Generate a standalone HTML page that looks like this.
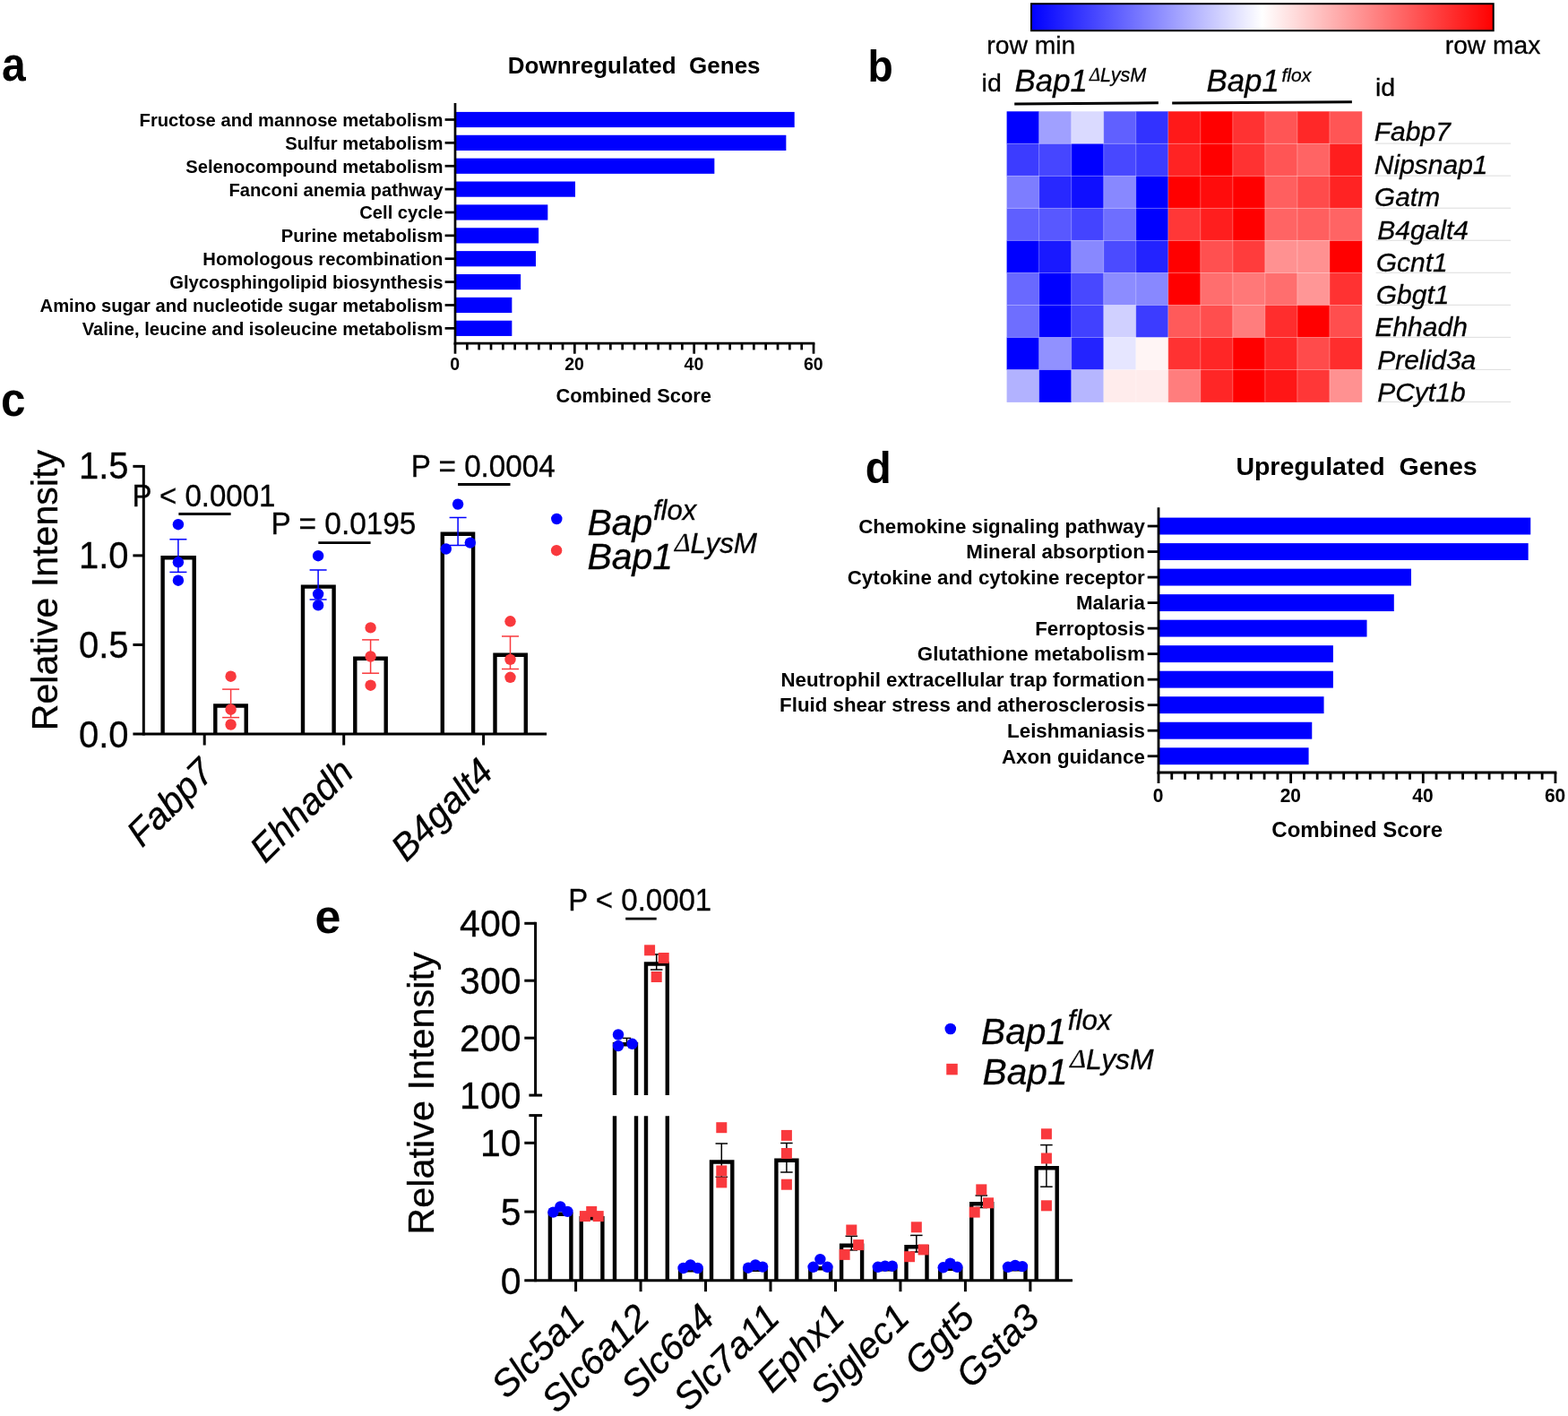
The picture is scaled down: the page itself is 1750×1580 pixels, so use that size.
<!DOCTYPE html>
<html lang="en">
<head>
<meta charset="utf-8">
<title>Figure</title>
<style>
html,body{margin:0;padding:0;background:#fff;}
body{width:1750px;height:1580px;overflow:hidden;}
svg{display:block;font-family:'Liberation Sans', Arial, Helvetica, sans-serif;fill:#000;}
text{stroke:#000;stroke-width:0.3px;}
text[font-weight=bold]{stroke:none;}
</style>
</head>
<body>
<svg width="1750" height="1580" viewBox="0 0 1750 1580">
<rect x="0" y="0" width="1750" height="1580" fill="#ffffff"/>
<g id="panel-labels">
<text transform="translate(2.04 90.05) scale(0.9233 0.9899)" font-size="52" font-weight="bold" >a</text>
<text transform="translate(968.4 90.86) scale(0.8892 0.9689)" font-size="52" font-weight="bold" >b</text>
<text transform="translate(1.02 464.24) scale(0.9501 0.9969)" font-size="52" font-weight="bold" >c</text>
<text transform="translate(965.8 539.15) scale(0.9121 0.9768)" font-size="52" font-weight="bold" >d</text>
<text transform="translate(351.42 1041.15) scale(0.9995 0.9794)" font-size="52" font-weight="bold" >e</text>
</g>
<g id="panel-a">
<text x="707.7" y="82.3" font-size="26" font-weight="bold" text-anchor="middle" style="white-space:pre">Downregulated  Genes</text>
<rect x="508" y="124.9" width="378.69" height="17.2" fill="#0000ff"/>
<line x1="496.6" y1="133.5" x2="508" y2="133.5" stroke="#000" stroke-width="2.7" stroke-linecap="butt"/>
<text x="494.4" y="140.9" font-size="20.2" font-weight="bold" text-anchor="end">Fructose and mannose metabolism</text>
<rect x="508" y="150.77" width="369.35" height="17.2" fill="#0000ff"/>
<line x1="496.6" y1="159.37" x2="508" y2="159.37" stroke="#000" stroke-width="2.7" stroke-linecap="butt"/>
<text x="494.4" y="166.77" font-size="20.2" font-weight="bold" text-anchor="end">Sulfur metabolism</text>
<rect x="508" y="176.64" width="289.35" height="17.2" fill="#0000ff"/>
<line x1="496.6" y1="185.24" x2="508" y2="185.24" stroke="#000" stroke-width="2.7" stroke-linecap="butt"/>
<text x="494.4" y="192.64" font-size="20.2" font-weight="bold" text-anchor="end">Selenocompound metabolism</text>
<rect x="508" y="202.51" width="134.01" height="17.2" fill="#0000ff"/>
<line x1="496.6" y1="211.11" x2="508" y2="211.11" stroke="#000" stroke-width="2.7" stroke-linecap="butt"/>
<text x="494.4" y="218.51" font-size="20.2" font-weight="bold" text-anchor="end">Fanconi anemia pathway</text>
<rect x="508" y="228.38" width="103.34" height="17.2" fill="#0000ff"/>
<line x1="496.6" y1="236.98" x2="508" y2="236.98" stroke="#000" stroke-width="2.7" stroke-linecap="butt"/>
<text x="494.4" y="244.38" font-size="20.2" font-weight="bold" text-anchor="end">Cell cycle</text>
<rect x="508" y="254.25" width="93.14" height="17.2" fill="#0000ff"/>
<line x1="496.6" y1="262.85" x2="508" y2="262.85" stroke="#000" stroke-width="2.7" stroke-linecap="butt"/>
<text x="494.4" y="270.25" font-size="20.2" font-weight="bold" text-anchor="end">Purine metabolism</text>
<rect x="508" y="280.12" width="90" height="17.2" fill="#0000ff"/>
<line x1="496.6" y1="288.72" x2="508" y2="288.72" stroke="#000" stroke-width="2.7" stroke-linecap="butt"/>
<text x="494.4" y="296.12" font-size="20.2" font-weight="bold" text-anchor="end">Homologous recombination</text>
<rect x="508" y="305.99" width="73.14" height="17.2" fill="#0000ff"/>
<line x1="496.6" y1="314.59" x2="508" y2="314.59" stroke="#000" stroke-width="2.7" stroke-linecap="butt"/>
<text x="494.4" y="321.99" font-size="20.2" font-weight="bold" text-anchor="end">Glycosphingolipid biosynthesis</text>
<rect x="508" y="331.86" width="63.34" height="17.2" fill="#0000ff"/>
<line x1="496.6" y1="340.46" x2="508" y2="340.46" stroke="#000" stroke-width="2.7" stroke-linecap="butt"/>
<text x="494.4" y="347.86" font-size="20.2" font-weight="bold" text-anchor="end">Amino sugar and nucleotide sugar metabolism</text>
<rect x="508" y="357.73" width="63.34" height="17.2" fill="#0000ff"/>
<line x1="496.6" y1="366.33" x2="508" y2="366.33" stroke="#000" stroke-width="2.7" stroke-linecap="butt"/>
<text x="494.4" y="373.73" font-size="20.2" font-weight="bold" text-anchor="end">Valine, leucine and isoleucine metabolism</text>
<line x1="508" y1="115" x2="508" y2="384.55" stroke="#000" stroke-width="2.7" stroke-linecap="butt"/>
<line x1="506.65" y1="383.2" x2="909.37" y2="383.2" stroke="#000" stroke-width="2.7" stroke-linecap="butt"/>
<line x1="508" y1="383.2" x2="508" y2="394.7" stroke="#000" stroke-width="2.7" stroke-linecap="butt"/>
<text transform="translate(507.7 413.4) scale(1 1.04)" font-size="19.5" font-weight="bold" text-anchor="middle">0</text>
<line x1="521.33" y1="383.2" x2="521.33" y2="390.4" stroke="#000" stroke-width="2.7" stroke-linecap="butt"/>
<line x1="534.67" y1="383.2" x2="534.67" y2="390.4" stroke="#000" stroke-width="2.7" stroke-linecap="butt"/>
<line x1="548" y1="383.2" x2="548" y2="390.4" stroke="#000" stroke-width="2.7" stroke-linecap="butt"/>
<line x1="561.34" y1="383.2" x2="561.34" y2="390.4" stroke="#000" stroke-width="2.7" stroke-linecap="butt"/>
<line x1="574.67" y1="383.2" x2="574.67" y2="390.4" stroke="#000" stroke-width="2.7" stroke-linecap="butt"/>
<line x1="588" y1="383.2" x2="588" y2="390.4" stroke="#000" stroke-width="2.7" stroke-linecap="butt"/>
<line x1="601.34" y1="383.2" x2="601.34" y2="390.4" stroke="#000" stroke-width="2.7" stroke-linecap="butt"/>
<line x1="614.67" y1="383.2" x2="614.67" y2="390.4" stroke="#000" stroke-width="2.7" stroke-linecap="butt"/>
<line x1="628.01" y1="383.2" x2="628.01" y2="390.4" stroke="#000" stroke-width="2.7" stroke-linecap="butt"/>
<line x1="641.34" y1="383.2" x2="641.34" y2="394.7" stroke="#000" stroke-width="2.7" stroke-linecap="butt"/>
<text transform="translate(641.04 413.4) scale(1 1.04)" font-size="19.5" font-weight="bold" text-anchor="middle">20</text>
<line x1="654.67" y1="383.2" x2="654.67" y2="390.4" stroke="#000" stroke-width="2.7" stroke-linecap="butt"/>
<line x1="668.01" y1="383.2" x2="668.01" y2="390.4" stroke="#000" stroke-width="2.7" stroke-linecap="butt"/>
<line x1="681.34" y1="383.2" x2="681.34" y2="390.4" stroke="#000" stroke-width="2.7" stroke-linecap="butt"/>
<line x1="694.68" y1="383.2" x2="694.68" y2="390.4" stroke="#000" stroke-width="2.7" stroke-linecap="butt"/>
<line x1="708.01" y1="383.2" x2="708.01" y2="390.4" stroke="#000" stroke-width="2.7" stroke-linecap="butt"/>
<line x1="721.34" y1="383.2" x2="721.34" y2="390.4" stroke="#000" stroke-width="2.7" stroke-linecap="butt"/>
<line x1="734.68" y1="383.2" x2="734.68" y2="390.4" stroke="#000" stroke-width="2.7" stroke-linecap="butt"/>
<line x1="748.01" y1="383.2" x2="748.01" y2="390.4" stroke="#000" stroke-width="2.7" stroke-linecap="butt"/>
<line x1="761.35" y1="383.2" x2="761.35" y2="390.4" stroke="#000" stroke-width="2.7" stroke-linecap="butt"/>
<line x1="774.68" y1="383.2" x2="774.68" y2="394.7" stroke="#000" stroke-width="2.7" stroke-linecap="butt"/>
<text transform="translate(774.38 413.4) scale(1 1.04)" font-size="19.5" font-weight="bold" text-anchor="middle">40</text>
<line x1="788.01" y1="383.2" x2="788.01" y2="390.4" stroke="#000" stroke-width="2.7" stroke-linecap="butt"/>
<line x1="801.35" y1="383.2" x2="801.35" y2="390.4" stroke="#000" stroke-width="2.7" stroke-linecap="butt"/>
<line x1="814.68" y1="383.2" x2="814.68" y2="390.4" stroke="#000" stroke-width="2.7" stroke-linecap="butt"/>
<line x1="828.02" y1="383.2" x2="828.02" y2="390.4" stroke="#000" stroke-width="2.7" stroke-linecap="butt"/>
<line x1="841.35" y1="383.2" x2="841.35" y2="390.4" stroke="#000" stroke-width="2.7" stroke-linecap="butt"/>
<line x1="854.68" y1="383.2" x2="854.68" y2="390.4" stroke="#000" stroke-width="2.7" stroke-linecap="butt"/>
<line x1="868.02" y1="383.2" x2="868.02" y2="390.4" stroke="#000" stroke-width="2.7" stroke-linecap="butt"/>
<line x1="881.35" y1="383.2" x2="881.35" y2="390.4" stroke="#000" stroke-width="2.7" stroke-linecap="butt"/>
<line x1="894.69" y1="383.2" x2="894.69" y2="390.4" stroke="#000" stroke-width="2.7" stroke-linecap="butt"/>
<line x1="908.02" y1="383.2" x2="908.02" y2="394.7" stroke="#000" stroke-width="2.7" stroke-linecap="butt"/>
<text transform="translate(907.72 413.4) scale(1 1.04)" font-size="19.5" font-weight="bold" text-anchor="middle">60</text>
<text x="707.2" y="449" font-size="21.85" font-weight="bold" text-anchor="middle">Combined Score</text>
</g>
<g id="panel-b">
<linearGradient id="cb" x1="0" x2="1" y1="0" y2="0"><stop offset="0" stop-color="#0000ff"/><stop offset="0.5" stop-color="#ffffff"/><stop offset="1" stop-color="#ff0000"/></linearGradient>
<rect x="1151" y="4.2" width="515.7" height="30" fill="url(#cb)" stroke="#000" stroke-width="2"/>
<text x="1101.3" y="59.9" font-size="28.3">row min</text>
<text x="1612.8" y="59.9" font-size="28.2">row max</text>
<text x="1095.6" y="102.2" font-size="28.5">id</text>
<text x="1535" y="107.4" font-size="28.5">id</text>
<text font-style="italic"><tspan x="1132.6" y="102.2" font-size="34.8">Bap1</tspan><tspan x="1216" y="90" font-size="20.5" font-family="Liberation Serif, serif">Δ</tspan><tspan dy="1.2" font-size="21.6">LysM</tspan></text>
<text font-style="italic"><tspan x="1346.5" y="102.2" font-size="34.8">Bap1</tspan><tspan x="1430.5" y="91.4" font-size="21">flox</tspan></text>
<line x1="1132.2" y1="116" x2="1292.9" y2="114.8" stroke="#000" stroke-width="3" stroke-linecap="butt"/>
<line x1="1308.2" y1="115" x2="1508.9" y2="113.8" stroke="#000" stroke-width="3" stroke-linecap="butt"/>
<rect x="1123.6" y="124.3" width="36.33" height="36.33" fill="rgb(0,0,255)"/>
<rect x="1159.63" y="124.3" width="36.33" height="36.33" fill="rgb(160,160,255)"/>
<rect x="1195.66" y="124.3" width="36.33" height="36.33" fill="rgb(218,218,255)"/>
<rect x="1231.69" y="124.3" width="36.33" height="36.33" fill="rgb(96,96,255)"/>
<rect x="1267.72" y="124.3" width="36.33" height="36.33" fill="rgb(50,50,255)"/>
<rect x="1303.75" y="124.3" width="36.33" height="36.33" fill="rgb(255,25,25)"/>
<rect x="1339.78" y="124.3" width="36.33" height="36.33" fill="rgb(255,0,0)"/>
<rect x="1375.81" y="124.3" width="36.33" height="36.33" fill="rgb(255,50,50)"/>
<rect x="1411.84" y="124.3" width="36.33" height="36.33" fill="rgb(255,85,85)"/>
<rect x="1447.87" y="124.3" width="36.33" height="36.33" fill="rgb(255,40,40)"/>
<rect x="1483.9" y="124.3" width="36.33" height="36.33" fill="rgb(255,85,85)"/>
<rect x="1123.6" y="160.33" width="36.33" height="36.33" fill="rgb(60,60,255)"/>
<rect x="1159.63" y="160.33" width="36.33" height="36.33" fill="rgb(70,70,255)"/>
<rect x="1195.66" y="160.33" width="36.33" height="36.33" fill="rgb(0,0,255)"/>
<rect x="1231.69" y="160.33" width="36.33" height="36.33" fill="rgb(72,72,255)"/>
<rect x="1267.72" y="160.33" width="36.33" height="36.33" fill="rgb(60,60,255)"/>
<rect x="1303.75" y="160.33" width="36.33" height="36.33" fill="rgb(255,35,35)"/>
<rect x="1339.78" y="160.33" width="36.33" height="36.33" fill="rgb(255,0,0)"/>
<rect x="1375.81" y="160.33" width="36.33" height="36.33" fill="rgb(255,50,50)"/>
<rect x="1411.84" y="160.33" width="36.33" height="36.33" fill="rgb(255,85,85)"/>
<rect x="1447.87" y="160.33" width="36.33" height="36.33" fill="rgb(255,100,100)"/>
<rect x="1483.9" y="160.33" width="36.33" height="36.33" fill="rgb(255,30,30)"/>
<rect x="1123.6" y="196.36" width="36.33" height="36.33" fill="rgb(125,125,255)"/>
<rect x="1159.63" y="196.36" width="36.33" height="36.33" fill="rgb(40,40,255)"/>
<rect x="1195.66" y="196.36" width="36.33" height="36.33" fill="rgb(15,15,255)"/>
<rect x="1231.69" y="196.36" width="36.33" height="36.33" fill="rgb(136,136,255)"/>
<rect x="1267.72" y="196.36" width="36.33" height="36.33" fill="rgb(0,0,255)"/>
<rect x="1303.75" y="196.36" width="36.33" height="36.33" fill="rgb(255,0,0)"/>
<rect x="1339.78" y="196.36" width="36.33" height="36.33" fill="rgb(255,12,12)"/>
<rect x="1375.81" y="196.36" width="36.33" height="36.33" fill="rgb(255,0,0)"/>
<rect x="1411.84" y="196.36" width="36.33" height="36.33" fill="rgb(255,95,95)"/>
<rect x="1447.87" y="196.36" width="36.33" height="36.33" fill="rgb(255,75,75)"/>
<rect x="1483.9" y="196.36" width="36.33" height="36.33" fill="rgb(255,35,35)"/>
<rect x="1123.6" y="232.39" width="36.33" height="36.33" fill="rgb(95,95,255)"/>
<rect x="1159.63" y="232.39" width="36.33" height="36.33" fill="rgb(88,88,255)"/>
<rect x="1195.66" y="232.39" width="36.33" height="36.33" fill="rgb(68,68,255)"/>
<rect x="1231.69" y="232.39" width="36.33" height="36.33" fill="rgb(110,110,255)"/>
<rect x="1267.72" y="232.39" width="36.33" height="36.33" fill="rgb(0,0,255)"/>
<rect x="1303.75" y="232.39" width="36.33" height="36.33" fill="rgb(255,55,55)"/>
<rect x="1339.78" y="232.39" width="36.33" height="36.33" fill="rgb(255,30,30)"/>
<rect x="1375.81" y="232.39" width="36.33" height="36.33" fill="rgb(255,0,0)"/>
<rect x="1411.84" y="232.39" width="36.33" height="36.33" fill="rgb(255,100,100)"/>
<rect x="1447.87" y="232.39" width="36.33" height="36.33" fill="rgb(255,95,95)"/>
<rect x="1483.9" y="232.39" width="36.33" height="36.33" fill="rgb(255,100,100)"/>
<rect x="1123.6" y="268.42" width="36.33" height="36.33" fill="rgb(0,0,255)"/>
<rect x="1159.63" y="268.42" width="36.33" height="36.33" fill="rgb(25,25,255)"/>
<rect x="1195.66" y="268.42" width="36.33" height="36.33" fill="rgb(136,136,255)"/>
<rect x="1231.69" y="268.42" width="36.33" height="36.33" fill="rgb(75,75,255)"/>
<rect x="1267.72" y="268.42" width="36.33" height="36.33" fill="rgb(35,35,255)"/>
<rect x="1303.75" y="268.42" width="36.33" height="36.33" fill="rgb(255,0,0)"/>
<rect x="1339.78" y="268.42" width="36.33" height="36.33" fill="rgb(255,80,80)"/>
<rect x="1375.81" y="268.42" width="36.33" height="36.33" fill="rgb(255,60,60)"/>
<rect x="1411.84" y="268.42" width="36.33" height="36.33" fill="rgb(255,145,145)"/>
<rect x="1447.87" y="268.42" width="36.33" height="36.33" fill="rgb(255,145,145)"/>
<rect x="1483.9" y="268.42" width="36.33" height="36.33" fill="rgb(255,0,0)"/>
<rect x="1123.6" y="304.45" width="36.33" height="36.33" fill="rgb(105,105,255)"/>
<rect x="1159.63" y="304.45" width="36.33" height="36.33" fill="rgb(0,0,255)"/>
<rect x="1195.66" y="304.45" width="36.33" height="36.33" fill="rgb(72,72,255)"/>
<rect x="1231.69" y="304.45" width="36.33" height="36.33" fill="rgb(140,140,255)"/>
<rect x="1267.72" y="304.45" width="36.33" height="36.33" fill="rgb(136,136,255)"/>
<rect x="1303.75" y="304.45" width="36.33" height="36.33" fill="rgb(255,0,0)"/>
<rect x="1339.78" y="304.45" width="36.33" height="36.33" fill="rgb(255,110,110)"/>
<rect x="1375.81" y="304.45" width="36.33" height="36.33" fill="rgb(255,120,120)"/>
<rect x="1411.84" y="304.45" width="36.33" height="36.33" fill="rgb(255,110,110)"/>
<rect x="1447.87" y="304.45" width="36.33" height="36.33" fill="rgb(255,150,150)"/>
<rect x="1483.9" y="304.45" width="36.33" height="36.33" fill="rgb(255,50,50)"/>
<rect x="1123.6" y="340.48" width="36.33" height="36.33" fill="rgb(110,110,255)"/>
<rect x="1159.63" y="340.48" width="36.33" height="36.33" fill="rgb(0,0,255)"/>
<rect x="1195.66" y="340.48" width="36.33" height="36.33" fill="rgb(65,65,255)"/>
<rect x="1231.69" y="340.48" width="36.33" height="36.33" fill="rgb(208,208,255)"/>
<rect x="1267.72" y="340.48" width="36.33" height="36.33" fill="rgb(60,60,255)"/>
<rect x="1303.75" y="340.48" width="36.33" height="36.33" fill="rgb(255,90,90)"/>
<rect x="1339.78" y="340.48" width="36.33" height="36.33" fill="rgb(255,78,78)"/>
<rect x="1375.81" y="340.48" width="36.33" height="36.33" fill="rgb(255,125,125)"/>
<rect x="1411.84" y="340.48" width="36.33" height="36.33" fill="rgb(255,45,45)"/>
<rect x="1447.87" y="340.48" width="36.33" height="36.33" fill="rgb(255,0,0)"/>
<rect x="1483.9" y="340.48" width="36.33" height="36.33" fill="rgb(255,78,78)"/>
<rect x="1123.6" y="376.51" width="36.33" height="36.33" fill="rgb(0,0,255)"/>
<rect x="1159.63" y="376.51" width="36.33" height="36.33" fill="rgb(145,145,255)"/>
<rect x="1195.66" y="376.51" width="36.33" height="36.33" fill="rgb(35,35,255)"/>
<rect x="1231.69" y="376.51" width="36.33" height="36.33" fill="rgb(230,230,255)"/>
<rect x="1267.72" y="376.51" width="36.33" height="36.33" fill="rgb(255,245,245)"/>
<rect x="1303.75" y="376.51" width="36.33" height="36.33" fill="rgb(255,50,50)"/>
<rect x="1339.78" y="376.51" width="36.33" height="36.33" fill="rgb(255,38,38)"/>
<rect x="1375.81" y="376.51" width="36.33" height="36.33" fill="rgb(255,0,0)"/>
<rect x="1411.84" y="376.51" width="36.33" height="36.33" fill="rgb(255,38,38)"/>
<rect x="1447.87" y="376.51" width="36.33" height="36.33" fill="rgb(255,75,75)"/>
<rect x="1483.9" y="376.51" width="36.33" height="36.33" fill="rgb(255,45,45)"/>
<rect x="1123.6" y="412.54" width="36.33" height="36.33" fill="rgb(178,178,255)"/>
<rect x="1159.63" y="412.54" width="36.33" height="36.33" fill="rgb(0,0,255)"/>
<rect x="1195.66" y="412.54" width="36.33" height="36.33" fill="rgb(182,182,255)"/>
<rect x="1231.69" y="412.54" width="36.33" height="36.33" fill="rgb(255,236,236)"/>
<rect x="1267.72" y="412.54" width="36.33" height="36.33" fill="rgb(255,236,236)"/>
<rect x="1303.75" y="412.54" width="36.33" height="36.33" fill="rgb(255,125,125)"/>
<rect x="1339.78" y="412.54" width="36.33" height="36.33" fill="rgb(255,38,38)"/>
<rect x="1375.81" y="412.54" width="36.33" height="36.33" fill="rgb(255,0,0)"/>
<rect x="1411.84" y="412.54" width="36.33" height="36.33" fill="rgb(255,22,22)"/>
<rect x="1447.87" y="412.54" width="36.33" height="36.33" fill="rgb(255,55,55)"/>
<rect x="1483.9" y="412.54" width="36.33" height="36.33" fill="rgb(255,145,145)"/>
<line x1="1159.63" y1="124.3" x2="1159.63" y2="448.57" stroke="rgba(255,255,255,0.3)" stroke-width="1" stroke-linecap="butt"/>
<line x1="1195.66" y1="124.3" x2="1195.66" y2="448.57" stroke="rgba(255,255,255,0.3)" stroke-width="1" stroke-linecap="butt"/>
<line x1="1231.69" y1="124.3" x2="1231.69" y2="448.57" stroke="rgba(255,255,255,0.3)" stroke-width="1" stroke-linecap="butt"/>
<line x1="1267.72" y1="124.3" x2="1267.72" y2="448.57" stroke="rgba(255,255,255,0.3)" stroke-width="1" stroke-linecap="butt"/>
<line x1="1303.75" y1="124.3" x2="1303.75" y2="448.57" stroke="rgba(255,255,255,0.3)" stroke-width="1" stroke-linecap="butt"/>
<line x1="1339.78" y1="124.3" x2="1339.78" y2="448.57" stroke="rgba(255,255,255,0.3)" stroke-width="1" stroke-linecap="butt"/>
<line x1="1375.81" y1="124.3" x2="1375.81" y2="448.57" stroke="rgba(255,255,255,0.3)" stroke-width="1" stroke-linecap="butt"/>
<line x1="1411.84" y1="124.3" x2="1411.84" y2="448.57" stroke="rgba(255,255,255,0.3)" stroke-width="1" stroke-linecap="butt"/>
<line x1="1447.87" y1="124.3" x2="1447.87" y2="448.57" stroke="rgba(255,255,255,0.3)" stroke-width="1" stroke-linecap="butt"/>
<line x1="1483.9" y1="124.3" x2="1483.9" y2="448.57" stroke="rgba(255,255,255,0.3)" stroke-width="1" stroke-linecap="butt"/>
<line x1="1123.6" y1="160.33" x2="1519.93" y2="160.33" stroke="rgba(255,255,255,0.3)" stroke-width="1" stroke-linecap="butt"/>
<line x1="1123.6" y1="196.36" x2="1519.93" y2="196.36" stroke="rgba(255,255,255,0.3)" stroke-width="1" stroke-linecap="butt"/>
<line x1="1123.6" y1="232.39" x2="1519.93" y2="232.39" stroke="rgba(255,255,255,0.3)" stroke-width="1" stroke-linecap="butt"/>
<line x1="1123.6" y1="268.42" x2="1519.93" y2="268.42" stroke="rgba(255,255,255,0.3)" stroke-width="1" stroke-linecap="butt"/>
<line x1="1123.6" y1="304.45" x2="1519.93" y2="304.45" stroke="rgba(255,255,255,0.3)" stroke-width="1" stroke-linecap="butt"/>
<line x1="1123.6" y1="340.48" x2="1519.93" y2="340.48" stroke="rgba(255,255,255,0.3)" stroke-width="1" stroke-linecap="butt"/>
<line x1="1123.6" y1="376.51" x2="1519.93" y2="376.51" stroke="rgba(255,255,255,0.3)" stroke-width="1" stroke-linecap="butt"/>
<line x1="1123.6" y1="412.54" x2="1519.93" y2="412.54" stroke="rgba(255,255,255,0.3)" stroke-width="1" stroke-linecap="butt"/>
<line x1="1535.6" y1="160.1" x2="1686.2" y2="160.1" stroke="#dcdcdc" stroke-width="1" stroke-linecap="butt"/>
<text x="1533.8" y="157.3" font-size="30" font-style="italic">Fabp7</text>
<line x1="1535.6" y1="196.14" x2="1686.2" y2="196.14" stroke="#dcdcdc" stroke-width="1" stroke-linecap="butt"/>
<text x="1533.8" y="193.9" font-size="30" font-style="italic">Nipsnap1</text>
<line x1="1535.6" y1="232.18" x2="1686.2" y2="232.18" stroke="#dcdcdc" stroke-width="1" stroke-linecap="butt"/>
<text x="1533.8" y="229.7" font-size="30" font-style="italic">Gatm</text>
<line x1="1535.6" y1="268.22" x2="1686.2" y2="268.22" stroke="#dcdcdc" stroke-width="1" stroke-linecap="butt"/>
<text x="1537.2" y="267" font-size="30" font-style="italic">B4galt4</text>
<line x1="1535.6" y1="304.26" x2="1686.2" y2="304.26" stroke="#dcdcdc" stroke-width="1" stroke-linecap="butt"/>
<text x="1535.7" y="303.3" font-size="30" font-style="italic">Gcnt1</text>
<line x1="1535.6" y1="340.3" x2="1686.2" y2="340.3" stroke="#dcdcdc" stroke-width="1" stroke-linecap="butt"/>
<text x="1535.7" y="339.2" font-size="30" font-style="italic">Gbgt1</text>
<line x1="1535.6" y1="376.34" x2="1686.2" y2="376.34" stroke="#dcdcdc" stroke-width="1" stroke-linecap="butt"/>
<text x="1534.4" y="375.3" font-size="30" font-style="italic">Ehhadh</text>
<line x1="1535.6" y1="412.38" x2="1686.2" y2="412.38" stroke="#dcdcdc" stroke-width="1" stroke-linecap="butt"/>
<text x="1537.2" y="411.7" font-size="30" font-style="italic">Prelid3a</text>
<line x1="1535.6" y1="448.42" x2="1686.2" y2="448.42" stroke="#dcdcdc" stroke-width="1" stroke-linecap="butt"/>
<text x="1537.2" y="447.6" font-size="30" font-style="italic">PCyt1b</text>
</g>
<g id="panel-c">
<path d="M181.6 819 V622.2 H216.7 V819" fill="none" stroke="#000" stroke-width="4.4" stroke-linejoin="miter"/>
<path d="M240.3 819 V787.5 H274.7 V819" fill="none" stroke="#000" stroke-width="4.4" stroke-linejoin="miter"/>
<path d="M338 819 V654.6 H372.6 V819" fill="none" stroke="#000" stroke-width="4.4" stroke-linejoin="miter"/>
<path d="M396.3 819 V734.7 H430.7 V819" fill="none" stroke="#000" stroke-width="4.4" stroke-linejoin="miter"/>
<path d="M493.8 819 V595.8 H528.1 V819" fill="none" stroke="#000" stroke-width="4.4" stroke-linejoin="miter"/>
<path d="M552.5 819 V730.8 H586.8 V819" fill="none" stroke="#000" stroke-width="4.4" stroke-linejoin="miter"/>
<line x1="160.3" y1="518.9" x2="160.3" y2="820.5" stroke="#000" stroke-width="3" stroke-linecap="butt"/>
<line x1="148.4" y1="819" x2="610.1" y2="819" stroke="#000" stroke-width="3" stroke-linecap="butt"/>
<line x1="148.4" y1="719.45" x2="160.3" y2="719.45" stroke="#000" stroke-width="3" stroke-linecap="butt"/>
<line x1="148.4" y1="619.9" x2="160.3" y2="619.9" stroke="#000" stroke-width="3" stroke-linecap="butt"/>
<line x1="148.4" y1="520.35" x2="160.3" y2="520.35" stroke="#000" stroke-width="3" stroke-linecap="butt"/>
<text transform="translate(143.5 833.7) scale(1 1.04)" font-size="40" text-anchor="end">0.0</text>
<text transform="translate(143.5 733.95) scale(1 1.04)" font-size="40" text-anchor="end">0.5</text>
<text transform="translate(143.5 634.2) scale(1 1.04)" font-size="40" text-anchor="end">1.0</text>
<text transform="translate(143.5 534.45) scale(1 1.04)" font-size="40" text-anchor="end">1.5</text>
<line x1="228.2" y1="819" x2="228.2" y2="831.5" stroke="#000" stroke-width="3" stroke-linecap="butt"/>
<line x1="383.7" y1="819" x2="383.7" y2="831.5" stroke="#000" stroke-width="3" stroke-linecap="butt"/>
<line x1="539.6" y1="819" x2="539.6" y2="831.5" stroke="#000" stroke-width="3" stroke-linecap="butt"/>
<text transform="translate(64.2 658.6) rotate(-90)" font-size="41.15" text-anchor="middle">Relative Intensity</text>
<line x1="198.9" y1="601.8" x2="198.9" y2="638.4" stroke="#0000ff" stroke-width="1.5" stroke-linecap="butt"/>
<line x1="189.4" y1="601.8" x2="208.4" y2="601.8" stroke="#0000ff" stroke-width="1.5" stroke-linecap="butt"/>
<line x1="189.4" y1="638.4" x2="208.4" y2="638.4" stroke="#0000ff" stroke-width="1.5" stroke-linecap="butt"/>
<circle cx="198.9" cy="585.2" r="6.2" fill="#0000ff"/>
<circle cx="198.9" cy="627.3" r="6.2" fill="#0000ff"/>
<circle cx="198.9" cy="647.7" r="6.2" fill="#0000ff"/>
<line x1="257.6" y1="769.1" x2="257.6" y2="800.6" stroke="#f9393d" stroke-width="1.5" stroke-linecap="butt"/>
<line x1="248.1" y1="769.1" x2="267.1" y2="769.1" stroke="#f9393d" stroke-width="1.5" stroke-linecap="butt"/>
<line x1="248.1" y1="800.6" x2="267.1" y2="800.6" stroke="#f9393d" stroke-width="1.5" stroke-linecap="butt"/>
<circle cx="257.6" cy="754.7" r="6.2" fill="#f9393d"/>
<circle cx="257.6" cy="791.7" r="6.2" fill="#f9393d"/>
<circle cx="257.6" cy="808.5" r="6.2" fill="#f9393d"/>
<line x1="355.1" y1="636" x2="355.1" y2="669" stroke="#0000ff" stroke-width="1.5" stroke-linecap="butt"/>
<line x1="345.6" y1="636" x2="364.6" y2="636" stroke="#0000ff" stroke-width="1.5" stroke-linecap="butt"/>
<line x1="345.6" y1="669" x2="364.6" y2="669" stroke="#0000ff" stroke-width="1.5" stroke-linecap="butt"/>
<circle cx="355.1" cy="620.2" r="6.2" fill="#0000ff"/>
<circle cx="355.1" cy="662.8" r="6.2" fill="#0000ff"/>
<circle cx="355.1" cy="675.4" r="6.2" fill="#0000ff"/>
<line x1="413.6" y1="713.9" x2="413.6" y2="751.2" stroke="#f9393d" stroke-width="1.5" stroke-linecap="butt"/>
<line x1="404.1" y1="713.9" x2="423.1" y2="713.9" stroke="#f9393d" stroke-width="1.5" stroke-linecap="butt"/>
<line x1="404.1" y1="751.2" x2="423.1" y2="751.2" stroke="#f9393d" stroke-width="1.5" stroke-linecap="butt"/>
<circle cx="413.6" cy="700.4" r="6.2" fill="#f9393d"/>
<circle cx="413.6" cy="732.5" r="6.2" fill="#f9393d"/>
<circle cx="413.6" cy="764.7" r="6.2" fill="#f9393d"/>
<line x1="511.1" y1="577.5" x2="511.1" y2="608.5" stroke="#0000ff" stroke-width="1.5" stroke-linecap="butt"/>
<line x1="501.6" y1="577.5" x2="520.6" y2="577.5" stroke="#0000ff" stroke-width="1.5" stroke-linecap="butt"/>
<line x1="501.6" y1="608.5" x2="520.6" y2="608.5" stroke="#0000ff" stroke-width="1.5" stroke-linecap="butt"/>
<circle cx="511.1" cy="562.6" r="6.2" fill="#0000ff"/>
<circle cx="497.8" cy="612.5" r="6.2" fill="#0000ff"/>
<circle cx="524.8" cy="605.6" r="6.2" fill="#0000ff"/>
<line x1="569.5" y1="710" x2="569.5" y2="746.5" stroke="#f9393d" stroke-width="1.5" stroke-linecap="butt"/>
<line x1="560" y1="710" x2="579" y2="710" stroke="#f9393d" stroke-width="1.5" stroke-linecap="butt"/>
<line x1="560" y1="746.5" x2="579" y2="746.5" stroke="#f9393d" stroke-width="1.5" stroke-linecap="butt"/>
<circle cx="569.5" cy="693.3" r="6.2" fill="#f9393d"/>
<circle cx="569.5" cy="735.9" r="6.2" fill="#f9393d"/>
<circle cx="569.5" cy="755.8" r="6.2" fill="#f9393d"/>
<text transform="translate(147.5 564.8) scale(1 1.04)" font-size="33">P &lt; 0.0001</text>
<line x1="199.4" y1="573.5" x2="257.6" y2="573.5" stroke="#000" stroke-width="2.8" stroke-linecap="butt"/>
<text transform="translate(302.6 596.3) scale(1 1.04)" font-size="33.4">P = 0.0195</text>
<line x1="355.3" y1="605.6" x2="413.6" y2="605.6" stroke="#000" stroke-width="2.8" stroke-linecap="butt"/>
<text transform="translate(458.8 532.1) scale(1 1.04)" font-size="33.2">P = 0.0004</text>
<line x1="511.1" y1="540.5" x2="569.5" y2="540.5" stroke="#000" stroke-width="2.8" stroke-linecap="butt"/>
<circle cx="621.3" cy="579" r="6.2" fill="#0000ff"/>
<circle cx="621.1" cy="614.2" r="6.2" fill="#f9393d"/>
<text font-style="italic"><tspan x="655.4" y="596.5" font-size="41">Bap</tspan><tspan x="729" y="579.7" font-size="31">flox</tspan></text>
<text font-style="italic"><tspan x="655.4" y="634.7" font-size="41">Bap1</tspan><tspan x="753" y="615.3" font-size="29.8" font-family="Liberation Serif, serif">Δ</tspan><tspan dy="1.8" font-size="31.45">LysM</tspan></text>
<text transform="translate(241.4 863.7) rotate(-45)" font-size="41.4" font-style="italic" text-anchor="end">Fabp7</text>
<text transform="translate(396.9 863.7) rotate(-45)" font-size="41.4" font-style="italic" text-anchor="end">Ehhadh</text>
<text transform="translate(552.8 863.7) rotate(-45)" font-size="41.4" font-style="italic" text-anchor="end">B4galt4</text>
</g>
<g id="panel-d">
<text x="1514" y="529.7" font-size="28.5" font-weight="bold" text-anchor="middle" style="white-space:pre">Upregulated  Genes</text>
<rect x="1293" y="577.6" width="415.24" height="18.9" fill="#0000ff"/>
<line x1="1280.7" y1="587.05" x2="1293" y2="587.05" stroke="#000" stroke-width="2.8" stroke-linecap="butt"/>
<text x="1277.8" y="594.85" font-size="22.3" font-weight="bold" text-anchor="end">Chemokine signaling pathway</text>
<rect x="1293" y="606.12" width="412.65" height="18.9" fill="#0000ff"/>
<line x1="1280.7" y1="615.57" x2="1293" y2="615.57" stroke="#000" stroke-width="2.8" stroke-linecap="butt"/>
<text x="1277.8" y="623.37" font-size="22.3" font-weight="bold" text-anchor="end">Mineral absorption</text>
<rect x="1293" y="634.64" width="281.99" height="18.9" fill="#0000ff"/>
<line x1="1280.7" y1="644.09" x2="1293" y2="644.09" stroke="#000" stroke-width="2.8" stroke-linecap="butt"/>
<text x="1277.8" y="651.89" font-size="22.3" font-weight="bold" text-anchor="end">Cytokine and cytokine receptor</text>
<rect x="1293" y="663.16" width="262.8" height="18.9" fill="#0000ff"/>
<line x1="1280.7" y1="672.61" x2="1293" y2="672.61" stroke="#000" stroke-width="2.8" stroke-linecap="butt"/>
<text x="1277.8" y="680.41" font-size="22.3" font-weight="bold" text-anchor="end">Malaria</text>
<rect x="1293" y="691.68" width="232.53" height="18.9" fill="#0000ff"/>
<line x1="1280.7" y1="701.13" x2="1293" y2="701.13" stroke="#000" stroke-width="2.8" stroke-linecap="butt"/>
<text x="1277.8" y="708.93" font-size="22.3" font-weight="bold" text-anchor="end">Ferroptosis</text>
<rect x="1293" y="720.2" width="194.88" height="18.9" fill="#0000ff"/>
<line x1="1280.7" y1="729.65" x2="1293" y2="729.65" stroke="#000" stroke-width="2.8" stroke-linecap="butt"/>
<text x="1277.8" y="737.45" font-size="22.3" font-weight="bold" text-anchor="end">Glutathione metabolism</text>
<rect x="1293" y="748.72" width="194.88" height="18.9" fill="#0000ff"/>
<line x1="1280.7" y1="758.17" x2="1293" y2="758.17" stroke="#000" stroke-width="2.8" stroke-linecap="butt"/>
<text x="1277.8" y="765.97" font-size="22.3" font-weight="bold" text-anchor="end">Neutrophil extracellular trap formation</text>
<rect x="1293" y="777.24" width="184.55" height="18.9" fill="#0000ff"/>
<line x1="1280.7" y1="786.69" x2="1293" y2="786.69" stroke="#000" stroke-width="2.8" stroke-linecap="butt"/>
<text x="1277.8" y="794.49" font-size="22.3" font-weight="bold" text-anchor="end">Fluid shear stress and atherosclerosis</text>
<rect x="1293" y="805.76" width="171.26" height="18.9" fill="#0000ff"/>
<line x1="1280.7" y1="815.21" x2="1293" y2="815.21" stroke="#000" stroke-width="2.8" stroke-linecap="butt"/>
<text x="1277.8" y="823.01" font-size="22.3" font-weight="bold" text-anchor="end">Leishmaniasis</text>
<rect x="1293" y="834.28" width="167.57" height="18.9" fill="#0000ff"/>
<line x1="1280.7" y1="843.73" x2="1293" y2="843.73" stroke="#000" stroke-width="2.8" stroke-linecap="butt"/>
<text x="1277.8" y="851.53" font-size="22.3" font-weight="bold" text-anchor="end">Axon guidance</text>
<line x1="1293" y1="566.3" x2="1293" y2="863.4" stroke="#000" stroke-width="2.8" stroke-linecap="butt"/>
<line x1="1291.6" y1="862" x2="1737.32" y2="862" stroke="#000" stroke-width="2.8" stroke-linecap="butt"/>
<line x1="1293" y1="862" x2="1293" y2="874" stroke="#000" stroke-width="2.8" stroke-linecap="butt"/>
<text transform="translate(1292.7 894.8) scale(1 1.04)" font-size="21" font-weight="bold" text-anchor="middle">0</text>
<line x1="1307.76" y1="862" x2="1307.76" y2="869.8" stroke="#000" stroke-width="2.8" stroke-linecap="butt"/>
<line x1="1322.53" y1="862" x2="1322.53" y2="869.8" stroke="#000" stroke-width="2.8" stroke-linecap="butt"/>
<line x1="1337.29" y1="862" x2="1337.29" y2="869.8" stroke="#000" stroke-width="2.8" stroke-linecap="butt"/>
<line x1="1352.06" y1="862" x2="1352.06" y2="869.8" stroke="#000" stroke-width="2.8" stroke-linecap="butt"/>
<line x1="1366.82" y1="862" x2="1366.82" y2="869.8" stroke="#000" stroke-width="2.8" stroke-linecap="butt"/>
<line x1="1381.58" y1="862" x2="1381.58" y2="869.8" stroke="#000" stroke-width="2.8" stroke-linecap="butt"/>
<line x1="1396.35" y1="862" x2="1396.35" y2="869.8" stroke="#000" stroke-width="2.8" stroke-linecap="butt"/>
<line x1="1411.11" y1="862" x2="1411.11" y2="869.8" stroke="#000" stroke-width="2.8" stroke-linecap="butt"/>
<line x1="1425.88" y1="862" x2="1425.88" y2="869.8" stroke="#000" stroke-width="2.8" stroke-linecap="butt"/>
<line x1="1440.64" y1="862" x2="1440.64" y2="874" stroke="#000" stroke-width="2.8" stroke-linecap="butt"/>
<text transform="translate(1440.34 894.8) scale(1 1.04)" font-size="21" font-weight="bold" text-anchor="middle">20</text>
<line x1="1455.4" y1="862" x2="1455.4" y2="869.8" stroke="#000" stroke-width="2.8" stroke-linecap="butt"/>
<line x1="1470.17" y1="862" x2="1470.17" y2="869.8" stroke="#000" stroke-width="2.8" stroke-linecap="butt"/>
<line x1="1484.93" y1="862" x2="1484.93" y2="869.8" stroke="#000" stroke-width="2.8" stroke-linecap="butt"/>
<line x1="1499.7" y1="862" x2="1499.7" y2="869.8" stroke="#000" stroke-width="2.8" stroke-linecap="butt"/>
<line x1="1514.46" y1="862" x2="1514.46" y2="869.8" stroke="#000" stroke-width="2.8" stroke-linecap="butt"/>
<line x1="1529.22" y1="862" x2="1529.22" y2="869.8" stroke="#000" stroke-width="2.8" stroke-linecap="butt"/>
<line x1="1543.99" y1="862" x2="1543.99" y2="869.8" stroke="#000" stroke-width="2.8" stroke-linecap="butt"/>
<line x1="1558.75" y1="862" x2="1558.75" y2="869.8" stroke="#000" stroke-width="2.8" stroke-linecap="butt"/>
<line x1="1573.52" y1="862" x2="1573.52" y2="869.8" stroke="#000" stroke-width="2.8" stroke-linecap="butt"/>
<line x1="1588.28" y1="862" x2="1588.28" y2="874" stroke="#000" stroke-width="2.8" stroke-linecap="butt"/>
<text transform="translate(1587.98 894.8) scale(1 1.04)" font-size="21" font-weight="bold" text-anchor="middle">40</text>
<line x1="1603.04" y1="862" x2="1603.04" y2="869.8" stroke="#000" stroke-width="2.8" stroke-linecap="butt"/>
<line x1="1617.81" y1="862" x2="1617.81" y2="869.8" stroke="#000" stroke-width="2.8" stroke-linecap="butt"/>
<line x1="1632.57" y1="862" x2="1632.57" y2="869.8" stroke="#000" stroke-width="2.8" stroke-linecap="butt"/>
<line x1="1647.34" y1="862" x2="1647.34" y2="869.8" stroke="#000" stroke-width="2.8" stroke-linecap="butt"/>
<line x1="1662.1" y1="862" x2="1662.1" y2="869.8" stroke="#000" stroke-width="2.8" stroke-linecap="butt"/>
<line x1="1676.86" y1="862" x2="1676.86" y2="869.8" stroke="#000" stroke-width="2.8" stroke-linecap="butt"/>
<line x1="1691.63" y1="862" x2="1691.63" y2="869.8" stroke="#000" stroke-width="2.8" stroke-linecap="butt"/>
<line x1="1706.39" y1="862" x2="1706.39" y2="869.8" stroke="#000" stroke-width="2.8" stroke-linecap="butt"/>
<line x1="1721.16" y1="862" x2="1721.16" y2="869.8" stroke="#000" stroke-width="2.8" stroke-linecap="butt"/>
<line x1="1735.92" y1="862" x2="1735.92" y2="874" stroke="#000" stroke-width="2.8" stroke-linecap="butt"/>
<text transform="translate(1735.62 894.8) scale(1 1.04)" font-size="21" font-weight="bold" text-anchor="middle">60</text>
<text x="1514.7" y="934.2" font-size="24" font-weight="bold" text-anchor="middle">Combined Score</text>
</g>
<g id="panel-e">
<path d="M613.9 1428.7 V1354.7 H637.4 V1428.7" fill="none" stroke="#000" stroke-width="4.4" stroke-linejoin="miter"/>
<path d="M648.7 1428.7 V1359.2 H672.4 V1428.7" fill="none" stroke="#000" stroke-width="4.4" stroke-linejoin="miter"/>
<path d="M759.1 1428.7 V1417.2 H782.5 V1428.7" fill="none" stroke="#000" stroke-width="4.4" stroke-linejoin="miter"/>
<path d="M794 1428.7 V1296.5 H817.3 V1428.7" fill="none" stroke="#000" stroke-width="4.4" stroke-linejoin="miter"/>
<path d="M831.6 1428.7 V1416.7 H854.7 V1428.7" fill="none" stroke="#000" stroke-width="4.4" stroke-linejoin="miter"/>
<path d="M866.4 1428.7 V1294.7 H889.4 V1428.7" fill="none" stroke="#000" stroke-width="4.4" stroke-linejoin="miter"/>
<path d="M904.3 1428.7 V1415.2 H927.1 V1428.7" fill="none" stroke="#000" stroke-width="4.4" stroke-linejoin="miter"/>
<path d="M939.1 1428.7 V1389.7 H962.1 V1428.7" fill="none" stroke="#000" stroke-width="4.4" stroke-linejoin="miter"/>
<path d="M976.3 1428.7 V1416.2 H999.3 V1428.7" fill="none" stroke="#000" stroke-width="4.4" stroke-linejoin="miter"/>
<path d="M1011.5 1428.7 V1391.3 H1034.5 V1428.7" fill="none" stroke="#000" stroke-width="4.4" stroke-linejoin="miter"/>
<path d="M1049.2 1428.7 V1415.7 H1072.3 V1428.7" fill="none" stroke="#000" stroke-width="4.4" stroke-linejoin="miter"/>
<path d="M1084.2 1428.7 V1343.3 H1107.2 V1428.7" fill="none" stroke="#000" stroke-width="4.4" stroke-linejoin="miter"/>
<path d="M1121.9 1428.7 V1416.2 H1144.5 V1428.7" fill="none" stroke="#000" stroke-width="4.4" stroke-linejoin="miter"/>
<path d="M1156.7 1428.7 V1303.3 H1179.7 V1428.7" fill="none" stroke="#000" stroke-width="4.4" stroke-linejoin="miter"/>
<path d="M686 1222.1 V1165.2 H710 V1222.1" fill="none" stroke="#000" stroke-width="4.4" stroke-linejoin="miter"/>
<line x1="686" y1="1245.2" x2="686" y2="1428.7" stroke="#000" stroke-width="4.4" stroke-linecap="butt"/>
<line x1="710" y1="1245.2" x2="710" y2="1428.7" stroke="#000" stroke-width="4.4" stroke-linecap="butt"/>
<path d="M721 1222.1 V1075.5 H744.8 V1222.1" fill="none" stroke="#000" stroke-width="4.4" stroke-linejoin="miter"/>
<line x1="721" y1="1245.2" x2="721" y2="1428.7" stroke="#000" stroke-width="4.4" stroke-linecap="butt"/>
<line x1="744.8" y1="1245.2" x2="744.8" y2="1428.7" stroke="#000" stroke-width="4.4" stroke-linecap="butt"/>
<line x1="597.6" y1="1028.8" x2="597.6" y2="1222.1" stroke="#000" stroke-width="3" stroke-linecap="butt"/>
<line x1="597.6" y1="1244.6" x2="597.6" y2="1430.2" stroke="#000" stroke-width="3" stroke-linecap="butt"/>
<line x1="590.4" y1="1222.1" x2="605.1" y2="1222.1" stroke="#000" stroke-width="3" stroke-linecap="butt"/>
<line x1="590.4" y1="1244.6" x2="605.1" y2="1244.6" stroke="#000" stroke-width="3" stroke-linecap="butt"/>
<line x1="585.3" y1="1428.7" x2="1197" y2="1428.7" stroke="#000" stroke-width="3" stroke-linecap="butt"/>
<line x1="585.3" y1="1030.3" x2="597.6" y2="1030.3" stroke="#000" stroke-width="3" stroke-linecap="butt"/>
<text transform="translate(581.5 1045.1) scale(1 1.04)" font-size="41" text-anchor="end">400</text>
<line x1="585.3" y1="1094.2" x2="597.6" y2="1094.2" stroke="#000" stroke-width="3" stroke-linecap="butt"/>
<text transform="translate(581.5 1109) scale(1 1.04)" font-size="41" text-anchor="end">300</text>
<line x1="585.3" y1="1158.2" x2="597.6" y2="1158.2" stroke="#000" stroke-width="3" stroke-linecap="butt"/>
<text transform="translate(581.5 1173) scale(1 1.04)" font-size="41" text-anchor="end">200</text>
<text transform="translate(581.5 1236.9) scale(1 1.04)" font-size="41" text-anchor="end">100</text>
<line x1="585.3" y1="1275.3" x2="597.6" y2="1275.3" stroke="#000" stroke-width="3" stroke-linecap="butt"/>
<text transform="translate(581.5 1290.1) scale(1 1.04)" font-size="41" text-anchor="end">10</text>
<line x1="585.3" y1="1352.1" x2="597.6" y2="1352.1" stroke="#000" stroke-width="3" stroke-linecap="butt"/>
<text transform="translate(581.5 1366.9) scale(1 1.04)" font-size="41" text-anchor="end">5</text>
<text transform="translate(581.5 1443.5) scale(1 1.04)" font-size="41" text-anchor="end">0</text>
<line x1="642.6" y1="1428.7" x2="642.6" y2="1441.2" stroke="#000" stroke-width="3" stroke-linecap="butt"/>
<line x1="715.07" y1="1428.7" x2="715.07" y2="1441.2" stroke="#000" stroke-width="3" stroke-linecap="butt"/>
<line x1="787.54" y1="1428.7" x2="787.54" y2="1441.2" stroke="#000" stroke-width="3" stroke-linecap="butt"/>
<line x1="860.01" y1="1428.7" x2="860.01" y2="1441.2" stroke="#000" stroke-width="3" stroke-linecap="butt"/>
<line x1="932.48" y1="1428.7" x2="932.48" y2="1441.2" stroke="#000" stroke-width="3" stroke-linecap="butt"/>
<line x1="1004.95" y1="1428.7" x2="1004.95" y2="1441.2" stroke="#000" stroke-width="3" stroke-linecap="butt"/>
<line x1="1077.42" y1="1428.7" x2="1077.42" y2="1441.2" stroke="#000" stroke-width="3" stroke-linecap="butt"/>
<line x1="1149.89" y1="1428.7" x2="1149.89" y2="1441.2" stroke="#000" stroke-width="3" stroke-linecap="butt"/>
<text transform="translate(484.3 1220) rotate(-90)" font-size="41.45" text-anchor="middle">Relative Intensity</text>
<line x1="699.5" y1="1158.4" x2="699.5" y2="1164" stroke="#000" stroke-width="1.5" stroke-linecap="butt"/>
<line x1="694.75" y1="1158.4" x2="704.25" y2="1158.4" stroke="#000" stroke-width="1.5" stroke-linecap="butt"/>
<line x1="694.75" y1="1164" x2="704.25" y2="1164" stroke="#000" stroke-width="1.5" stroke-linecap="butt"/>
<line x1="732.7" y1="1064.9" x2="732.7" y2="1082" stroke="#000" stroke-width="1.5" stroke-linecap="butt"/>
<line x1="725.95" y1="1064.9" x2="739.45" y2="1064.9" stroke="#000" stroke-width="1.5" stroke-linecap="butt"/>
<line x1="725.95" y1="1082" x2="739.45" y2="1082" stroke="#000" stroke-width="1.5" stroke-linecap="butt"/>
<line x1="805.3" y1="1276" x2="805.3" y2="1313.3" stroke="#000" stroke-width="1.5" stroke-linecap="butt"/>
<line x1="798.55" y1="1276" x2="812.05" y2="1276" stroke="#000" stroke-width="1.5" stroke-linecap="butt"/>
<line x1="798.55" y1="1313.3" x2="812.05" y2="1313.3" stroke="#000" stroke-width="1.5" stroke-linecap="butt"/>
<line x1="877.9" y1="1275.5" x2="877.9" y2="1308" stroke="#000" stroke-width="1.5" stroke-linecap="butt"/>
<line x1="871.15" y1="1275.5" x2="884.65" y2="1275.5" stroke="#000" stroke-width="1.5" stroke-linecap="butt"/>
<line x1="871.15" y1="1308" x2="884.65" y2="1308" stroke="#000" stroke-width="1.5" stroke-linecap="butt"/>
<line x1="950.3" y1="1379.3" x2="950.3" y2="1394.9" stroke="#000" stroke-width="1.5" stroke-linecap="butt"/>
<line x1="943.55" y1="1379.3" x2="957.05" y2="1379.3" stroke="#000" stroke-width="1.5" stroke-linecap="butt"/>
<line x1="943.55" y1="1394.9" x2="957.05" y2="1394.9" stroke="#000" stroke-width="1.5" stroke-linecap="butt"/>
<line x1="1022.8" y1="1378.4" x2="1022.8" y2="1397" stroke="#000" stroke-width="1.5" stroke-linecap="butt"/>
<line x1="1016.05" y1="1378.4" x2="1029.55" y2="1378.4" stroke="#000" stroke-width="1.5" stroke-linecap="butt"/>
<line x1="1016.05" y1="1397" x2="1029.55" y2="1397" stroke="#000" stroke-width="1.5" stroke-linecap="butt"/>
<line x1="1095.3" y1="1334" x2="1095.3" y2="1347.5" stroke="#000" stroke-width="1.5" stroke-linecap="butt"/>
<line x1="1088.55" y1="1334" x2="1102.05" y2="1334" stroke="#000" stroke-width="1.5" stroke-linecap="butt"/>
<line x1="1088.55" y1="1347.5" x2="1102.05" y2="1347.5" stroke="#000" stroke-width="1.5" stroke-linecap="butt"/>
<line x1="1167.9" y1="1277.6" x2="1167.9" y2="1324.2" stroke="#000" stroke-width="1.5" stroke-linecap="butt"/>
<line x1="1161.15" y1="1277.6" x2="1174.65" y2="1277.6" stroke="#000" stroke-width="1.5" stroke-linecap="butt"/>
<line x1="1161.15" y1="1324.2" x2="1174.65" y2="1324.2" stroke="#000" stroke-width="1.5" stroke-linecap="butt"/>
<circle cx="617.4" cy="1352.6" r="6.2" fill="#0000ff"/>
<circle cx="625.4" cy="1346.4" r="6.2" fill="#0000ff"/>
<circle cx="633.4" cy="1351.9" r="6.2" fill="#0000ff"/>
<circle cx="690" cy="1154.5" r="6.2" fill="#0000ff"/>
<circle cx="690" cy="1167" r="6.2" fill="#0000ff"/>
<circle cx="705.6" cy="1164.8" r="6.2" fill="#0000ff"/>
<circle cx="762.6" cy="1415" r="6.2" fill="#0000ff"/>
<circle cx="770.6" cy="1411.5" r="6.2" fill="#0000ff"/>
<circle cx="778.6" cy="1415" r="6.2" fill="#0000ff"/>
<circle cx="835.1" cy="1414.7" r="6.2" fill="#0000ff"/>
<circle cx="843.1" cy="1411.5" r="6.2" fill="#0000ff"/>
<circle cx="851.1" cy="1413.6" r="6.2" fill="#0000ff"/>
<circle cx="907.6" cy="1413.8" r="6.2" fill="#0000ff"/>
<circle cx="915.4" cy="1405.1" r="6.2" fill="#0000ff"/>
<circle cx="923.4" cy="1413.8" r="6.2" fill="#0000ff"/>
<circle cx="979.8" cy="1413.8" r="6.2" fill="#0000ff"/>
<circle cx="987.8" cy="1412.7" r="6.2" fill="#0000ff"/>
<circle cx="995.8" cy="1412.7" r="6.2" fill="#0000ff"/>
<circle cx="1052.7" cy="1414.3" r="6.2" fill="#0000ff"/>
<circle cx="1060.5" cy="1409.7" r="6.2" fill="#0000ff"/>
<circle cx="1068.3" cy="1413.8" r="6.2" fill="#0000ff"/>
<circle cx="1125" cy="1413.8" r="6.2" fill="#0000ff"/>
<circle cx="1133" cy="1412" r="6.2" fill="#0000ff"/>
<circle cx="1141" cy="1413.1" r="6.2" fill="#0000ff"/>
<rect x="646.9" y="1351.1" width="12" height="12" fill="#f9393d"/>
<rect x="654.2" y="1345.9" width="12" height="12" fill="#f9393d"/>
<rect x="661.7" y="1351.1" width="12" height="12" fill="#f9393d"/>
<rect x="719.1" y="1054.3" width="12" height="12" fill="#f9393d"/>
<rect x="734.7" y="1063" width="12" height="12" fill="#f9393d"/>
<rect x="726.7" y="1084" width="12" height="12" fill="#f9393d"/>
<rect x="799.3" y="1252.2" width="12" height="12" fill="#f9393d"/>
<rect x="799.3" y="1300.4" width="12" height="12" fill="#f9393d"/>
<rect x="799.3" y="1313.4" width="12" height="12" fill="#f9393d"/>
<rect x="871.9" y="1260.9" width="12" height="12" fill="#f9393d"/>
<rect x="871.9" y="1281" width="12" height="12" fill="#f9393d"/>
<rect x="871.9" y="1315.7" width="12" height="12" fill="#f9393d"/>
<rect x="944.3" y="1366.5" width="12" height="12" fill="#f9393d"/>
<rect x="952.1" y="1383.1" width="12" height="12" fill="#f9393d"/>
<rect x="936.6" y="1393.9" width="12" height="12" fill="#f9393d"/>
<rect x="1016.8" y="1363.3" width="12" height="12" fill="#f9393d"/>
<rect x="1024.6" y="1388.4" width="12" height="12" fill="#f9393d"/>
<rect x="1009" y="1396.2" width="12" height="12" fill="#f9393d"/>
<rect x="1089.3" y="1321.4" width="12" height="12" fill="#f9393d"/>
<rect x="1097" y="1336.3" width="12" height="12" fill="#f9393d"/>
<rect x="1081.7" y="1346.6" width="12" height="12" fill="#f9393d"/>
<rect x="1161.9" y="1259.3" width="12" height="12" fill="#f9393d"/>
<rect x="1161.9" y="1286.5" width="12" height="12" fill="#f9393d"/>
<rect x="1161.9" y="1339.3" width="12" height="12" fill="#f9393d"/>
<text transform="translate(634.3 1016.4) scale(1 1.04)" font-size="33">P &lt; 0.0001</text>
<line x1="698.2" y1="1025.2" x2="732.7" y2="1025.2" stroke="#000" stroke-width="2.8" stroke-linecap="butt"/>
<circle cx="1060.8" cy="1148" r="6.3" fill="#0000ff"/>
<rect x="1056.25" y="1186.85" width="12.5" height="12.5" fill="#f9393d"/>
<text font-style="italic"><tspan x="1095" y="1165.3" font-size="40.7">Bap1</tspan><tspan x="1191.8" y="1148.5" font-size="31.2">flox</tspan></text>
<text font-style="italic"><tspan x="1096.6" y="1210.1" font-size="40.7">Bap1</tspan><tspan x="1194.3" y="1191.4" font-size="30.2" font-family="Liberation Serif, serif">Δ</tspan><tspan dy="1.8" font-size="31.9">LysM</tspan></text>
<text transform="translate(654.9 1472.7) rotate(-45)" font-size="41.4" font-style="italic" text-anchor="end">Slc5a1</text>
<text transform="translate(727.37 1472.7) rotate(-45)" font-size="41.4" font-style="italic" text-anchor="end">Slc6a12</text>
<text transform="translate(799.84 1472.7) rotate(-45)" font-size="41.4" font-style="italic" text-anchor="end">Slc6a4</text>
<text transform="translate(872.31 1472.7) rotate(-45)" font-size="41.4" font-style="italic" text-anchor="end">Slc7a11</text>
<text transform="translate(944.78 1472.7) rotate(-45)" font-size="41.4" font-style="italic" text-anchor="end">Ephx1</text>
<text transform="translate(1017.25 1472.7) rotate(-45)" font-size="41.4" font-style="italic" text-anchor="end">Siglec1</text>
<text transform="translate(1089.72 1472.7) rotate(-45)" font-size="41.4" font-style="italic" text-anchor="end">Ggt5</text>
<text transform="translate(1162.19 1472.7) rotate(-45)" font-size="41.4" font-style="italic" text-anchor="end">Gsta3</text>
</g>
</svg>
</body>
</html>
